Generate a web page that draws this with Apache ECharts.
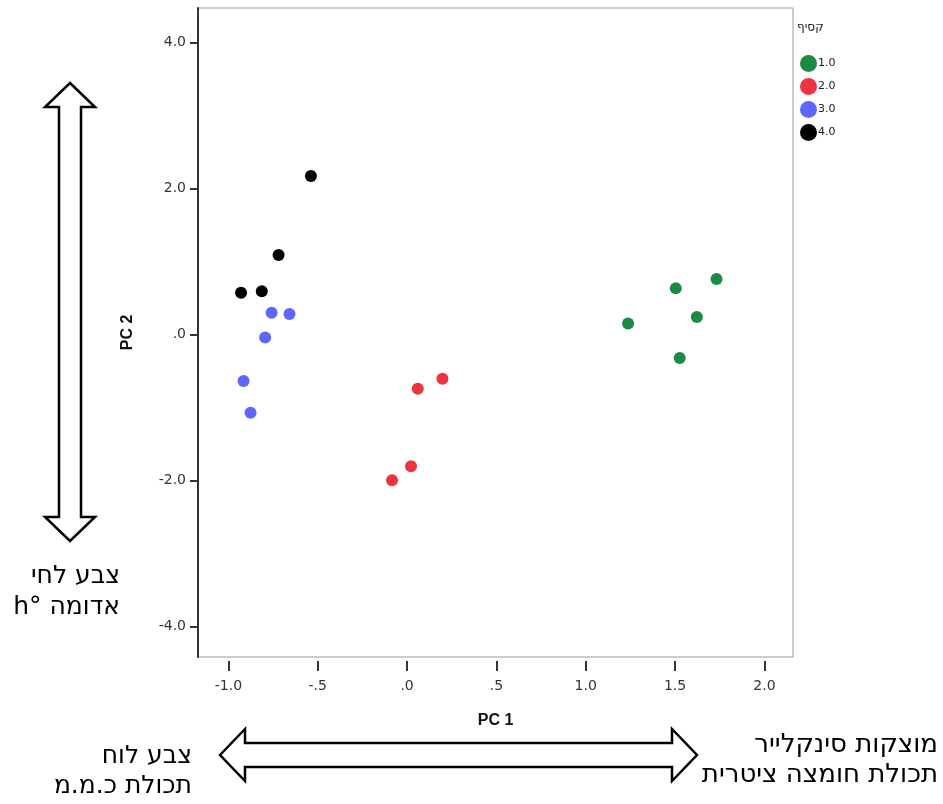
<!DOCTYPE html>
<html>
<head>
<meta charset="utf-8">
<script src="https://cdn.jsdelivr.net/npm/echarts@6/dist/echarts.min.js"></script>
<style>
  html, body { margin: 0; padding: 0; background: #fff; }
  #chart { width: 943px; height: 804px; }
</style>
</head>
<body>
<div id="chart"></div>
<script>
// cluster points [PC1, PC2]
const cluster1 = [[1.237, 0.147], [1.504, 0.630], [1.732, 0.758], [1.622, 0.237], [1.526, -0.325]];
const cluster2 = [[0.060, -0.744], [0.198, -0.607], [0.022, -1.808], [-0.084, -2.000]];
const cluster3 = [[-0.758, 0.297], [-0.658, 0.278], [-0.794, -0.045], [-0.915, -0.640], [-0.876, -1.073]];
const cluster4 = [[-0.538, 2.168], [-0.719, 1.086], [-0.929, 0.571], [-0.813, 0.589]];

const clusterNames = ['1.0', '2.0', '3.0', '4.0'];
const clusterColors = ['#1b8a44', '#ee3440', '#5d66ff', '#000000'];
const xTicks = [-1.0, -0.5, 0, 0.5, 1.0, 1.5, 2.0];
const yTicks = [-4, -2, 0, 2, 4];

// SPSS style numbers: .0, -.5, 1.0
function fmt(v) {
    return v.toFixed(1).replace(/^(-?)0\./, '$1.');
}

const chart = echarts.init(document.getElementById('chart'), null, { renderer: 'canvas' });

// hollow double arrow outline
function vArrow(cx, top, bottom) {
    const hw = 25, sw = 11, hl = 24;
    return [
        [cx, top], [cx + hw, top + hl], [cx + sw, top + hl], [cx + sw, bottom - hl],
        [cx + hw, bottom - hl], [cx, bottom], [cx - hw, bottom - hl], [cx - sw, bottom - hl],
        [cx - sw, top + hl], [cx - hw, top + hl]
    ];
}
function hArrow(cy, left, right) {
    const hw = 26, sw = 12, hl = 25;
    return [
        [left, cy], [left + hl, cy - hw], [left + hl, cy - sw], [right - hl, cy - sw],
        [right - hl, cy - hw], [right, cy], [right - hl, cy + hw], [right - hl, cy + sw],
        [left + hl, cy + sw], [left + hl, cy + hw]
    ];
}

const hebFont = '"DejaVu Sans", sans-serif';
const allData = [cluster1, cluster2, cluster3, cluster4];

chart.setOption({
    backgroundColor: '#fff',
    animation: false,
    grid: {
        left: 198,
        right: 150,
        top: 8,
        bottom: 147,
        show: true,
        borderColor: '#999',
        borderWidth: 1
    },
    legend: {
        orient: 'vertical',
        left: 795,
        top: 50,
        icon: 'circle',
        itemWidth: 17,
        itemHeight: 17,
        itemGap: 6,
        textStyle: { fontSize: 11, color: '#222', fontFamily: '"DejaVu Sans", sans-serif', padding: [4, 0, 0, -4] },
        data: clusterNames
    },
    xAxis: {
        type: 'value',
        min: -1.17,
        max: 2.16,
        offset: 4,
        name: 'PC 1',
        nameLocation: 'middle',
        nameGap: 52,
        nameTextStyle: { fontSize: 16, fontWeight: 'bold', color: '#111', fontFamily: '"Liberation Sans", Arial, sans-serif' },
        axisLine: { show: false, onZero: false },
        axisTick: { show: true, length: 10, lineStyle: { color: '#333', width: 2 }, customValues: xTicks },
        axisLabel: { color: '#333', fontSize: 14, fontFamily: '"DejaVu Sans", sans-serif', margin: 18, customValues: xTicks, formatter: fmt },
        splitLine: { show: false }
    },
    yAxis: {
        type: 'value',
        min: -4.42,
        max: 4.47,
        name: 'PC 2',
        nameLocation: 'middle',
        nameGap: 62,
        nameRotate: 90,
        nameTextStyle: { fontSize: 16, fontWeight: 'bold', color: '#111', fontFamily: '"Liberation Sans", Arial, sans-serif' },
        axisLine: { show: true, onZero: false, lineStyle: { color: '#333', width: 2 } },
        axisTick: { show: true, length: 8, lineStyle: { color: '#333', width: 2 }, customValues: yTicks },
        axisLabel: { color: '#333', fontSize: 14, fontFamily: '"DejaVu Sans", sans-serif', margin: 12, customValues: yTicks, formatter: fmt },
        splitLine: { show: false }
    },
    series: allData.map((d, i) => ({
        name: clusterNames[i],
        type: 'scatter',
        symbolSize: 12,
        data: d,
        itemStyle: { color: clusterColors[i], opacity: 1 }
    })),
    graphic: [
        { type: 'text', left: 797, top: 22, style: { text: 'קסיף', fill: '#222', font: '12px "DejaVu Sans", sans-serif' } },
        { type: 'polygon', shape: { points: vArrow(70, 83, 541) }, style: { fill: '#fff', stroke: '#000', lineWidth: 2.5 } },
        { type: 'polygon', shape: { points: hArrow(755, 220, 697) }, style: { fill: '#fff', stroke: '#000', lineWidth: 2.5 } },
        { type: 'text', x: 120, y: 561, style: { text: 'צבע לחי\nh° אדומה', align: 'right', font: '25px ' + hebFont, lineHeight: 31, fill: '#000' } },
        { type: 'text', x: 192, y: 741, style: { text: 'צבע לוח\nתכולת כ.מ.מ', align: 'right', font: '25px ' + hebFont, lineHeight: 30, fill: '#000' } },
        { type: 'text', x: 938, y: 730, style: { text: 'מוצקות סינקלייר\nתכולת חומצה ציטרית', align: 'right', font: '26px ' + hebFont, lineHeight: 30, fill: '#000' } }
    ]
});
</script>
</body>
</html>
